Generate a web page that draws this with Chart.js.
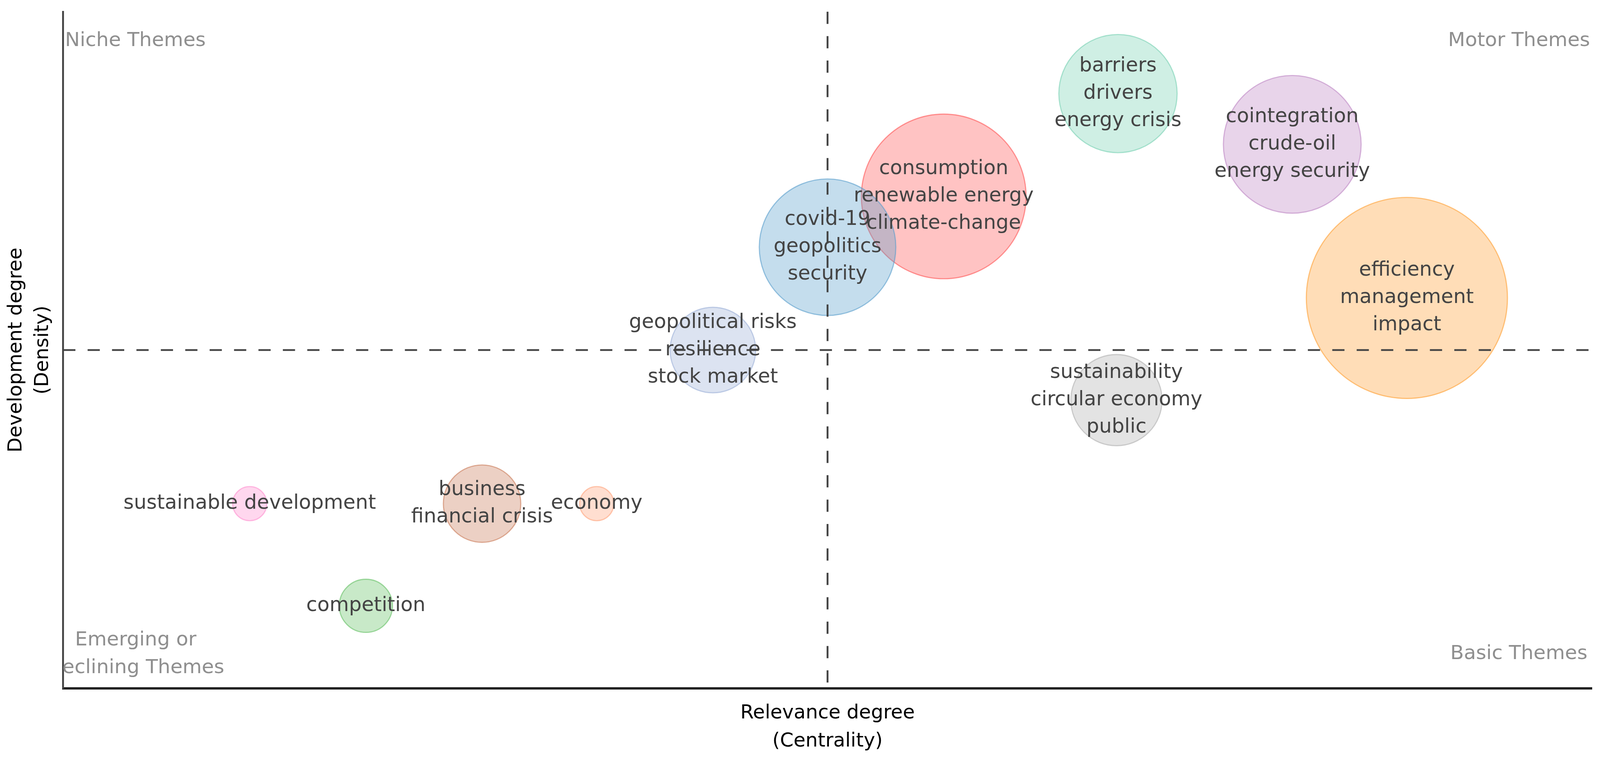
<!DOCTYPE html>
<html>
<head>
<meta charset="utf-8">
<script src="https://cdn.jsdelivr.net/npm/chart.js@4.4.0/dist/chart.umd.min.js"></script>
<style>
  html, body { margin: 0; padding: 0; background: #fff; overflow: hidden; }
  #wrap { width: 100vw; height: 100vh; }
</style>
</head>
<body>
<div id="wrap"><canvas id="themeMap"></canvas></div>
<script>
// thematic clusters: keywords, centrality (x), density (y), cluster frequency (bubble area)
const themes = [
    ["barriers", "drivers", "energy crisis"],
    ["consumption", "renewable energy", "climate-change"],
    ["covid-19", "geopolitics", "security"],
    ["cointegration", "crude-oil", "energy security"],
    ["efficiency", "management", "impact"],
    ["geopolitical risks", "resilience", "stock market"],
    ["sustainability", "circular economy", "public"],
    ["sustainable development"],
    ["business", "financial crisis"],
    ["economy"],
    ["competition"],
];
const centrality = [6.90, 5.76, 5.00, 8.04, 8.79, 4.25, 6.89, 1.22, 2.74, 3.49, 1.98];
const density = [8.79, 7.27, 6.52, 8.04, 5.77, 5.00, 4.26, 2.73, 2.73, 2.73, 1.22];
const frequency = [84, 163, 112, 114, 243, 44, 50, 7, 36, 7, 17];
const centralityMedian = 5.0;
const densityMedian = 5.0;
const quadrantNames = ["Niche Themes", "Motor Themes", "Emerging or\nDeclining Themes", "Basic Themes"];

const palette = [
    [118, 209, 178],
    [255, 84, 84],
    [86, 157, 204],
    [189, 132, 195],
    [255, 158, 49],
    [155, 175, 215],
    [175, 175, 175],
    [255, 141, 206],
    [201, 121, 86],
    [255, 161, 121],
    [98, 192, 98],
];
const rgba = (c, a) => "rgba(" + c[0] + "," + c[1] + "," + c[2] + "," + a + ")";

const FONT = '"DejaVu Sans", Verdana, sans-serif';
// sizes below are tuned for a 4327x1949 page, scale them to the real viewport
const SX = document.documentElement.clientWidth / 4327;
const SY = document.documentElement.clientHeight / 1949;

function bubbleRadius(c) {
    const area = c.chart.chartArea;
    const w = area ? area.right - area.left : 4134 * SX;
    return Math.sqrt(frequency[c.dataIndex]) * w * 0.00422;
}

const themeLabels = {
    id: "themeLabels",
    afterDatasetsDraw(chart) {
        const { ctx, chartArea, scales } = chart;
        const xs = scales.x, ys = scales.y;
        ctx.save();

        // keyword labels
        ctx.font = (54 * SX) + "px " + FONT;
        ctx.fillStyle = "#444";
        ctx.textAlign = "center";
        ctx.textBaseline = "middle";
        themes.forEach((lines, i) => {
            const px = xs.getPixelForValue(centrality[i]);
            const py = ys.getPixelForValue(density[i]);
            lines.forEach((t, k) => {
                ctx.fillText(t, px, py + (k - (lines.length - 1) / 2) * 70 * SY);
            });
        });

        // quadrant names, clipped to the plot area
        ctx.save();
        ctx.beginPath();
        ctx.rect(chartArea.left, chartArea.top, chartArea.right - chartArea.left, chartArea.bottom - chartArea.top);
        ctx.clip();
        ctx.font = (53.5 * SX) + "px " + FONT;
        ctx.fillStyle = "#8f8f8f";
        const topY = chartArea.top + 75 * SY;
        const botY = chartArea.bottom - 88 * SY;
        ctx.textAlign = "left";
        ctx.fillText(quadrantNames[0], chartArea.left + 5 * SX, topY);
        ctx.textAlign = "right";
        ctx.fillText(quadrantNames[1], chartArea.right - 5 * SX, topY);
        ctx.fillText(quadrantNames[3], chartArea.right - 12 * SX, botY);
        ctx.textAlign = "center";
        const em = quadrantNames[2].split("\n");
        em.forEach((t, k) => {
            ctx.fillText(t, chartArea.left + 196 * SX, botY + (k - (em.length - 1) / 2) * 71 * SY);
        });
        ctx.restore();

        // median lines
        ctx.strokeStyle = "#444";
        ctx.lineWidth = 5 * SX;
        ctx.setLineDash([33 * SX, 33 * SX]);
        const mx = xs.getPixelForValue(centralityMedian);
        const my = ys.getPixelForValue(densityMedian);
        ctx.beginPath();
        ctx.moveTo(mx, chartArea.top);
        ctx.lineTo(mx, chartArea.bottom);
        ctx.stroke();
        ctx.beginPath();
        ctx.moveTo(chartArea.left, my);
        ctx.lineTo(chartArea.right, my);
        ctx.stroke();
        ctx.restore();
    },
};

const ctx = document.getElementById("themeMap").getContext("2d");

new Chart(ctx, {
    type: "bubble",
    data: {
        datasets: [
            {
                label: "Themes",
                data: centrality.map((c, i) => ({ x: c, y: density[i] })),
                backgroundColor: palette.map((c) => rgba(c, 0.35)),
                borderColor: palette.map((c) => rgba(c, 0.6)),
                borderWidth: 3 * SX,
                radius: bubbleRadius,
                clip: false,
            },
        ],
    },
    options: {
        responsive: true,
        maintainAspectRatio: false,
        animation: false,
        layout: {
            autoPadding: false,
            padding: { top: 30 * SY, right: 22 * SX, left: 0, bottom: 0 },
        },
        plugins: {
            legend: { display: false },
            tooltip: { enabled: false },
        },
        scales: {
            x: {
                type: "linear",
                min: 0,
                max: 10,
                ticks: { display: false },
                grid: { display: false, drawTicks: false },
                border: { display: true, color: "#222", width: 6 * SY },
                title: {
                    display: true,
                    text: ["Relevance degree", "(Centrality)"],
                    color: "#000",
                    font: { family: FONT, size: 52.5 * SX, lineHeight: (72 * SY) / (52.5 * SX) },
                    padding: { top: 28 * SY, bottom: 14 * SY },
                },
            },
            y: {
                type: "linear",
                min: 0,
                max: 10,
                ticks: { display: false },
                grid: { display: false, drawTicks: false },
                border: { display: true, color: "#444", width: 5 * SX },
                title: {
                    display: true,
                    text: ["Development degree", "(Density)"],
                    color: "#000",
                    font: { family: FONT, size: 52.5 * SX, lineHeight: 1.371 },
                    padding: { top: 8 * SX, bottom: 19 * SX },
                },
            },
        },
    },
    plugins: [themeLabels],
});
</script>
</body>
</html>
